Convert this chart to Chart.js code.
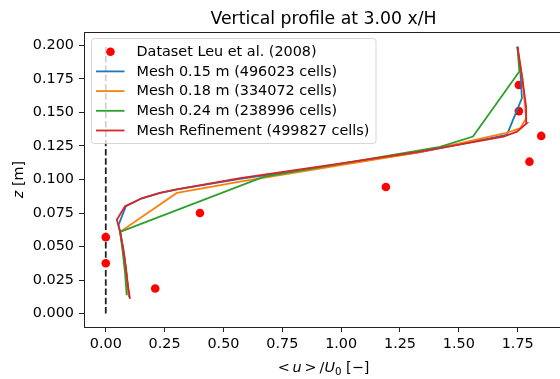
<!DOCTYPE html>
<html><head><meta charset="utf-8">
<script src="https://cdn.jsdelivr.net/npm/chart.js@4/dist/chart.umd.min.js"></script>
<style>html,body{margin:0;padding:0;overflow:hidden;background:#fff}</style>
</head><body>
<canvas id="c" width="600" height="379" style="width:600px;height:379px;display:block"></canvas>
<script>
// ---- data ----
const chartTitle = 'Vertical profile at 3.00 x/H';
const xTicks = [0, 0.25, 0.5, 0.75, 1.0, 1.25, 1.5, 1.75];
const yTicks = [0, 0.025, 0.05, 0.075, 0.1, 0.125, 0.15, 0.175, 0.2];

const leuLabel = 'Dataset Leu et al. (2008)';
const leuU = [0.00, 0.00, 0.21, 0.40, 1.19, 1.80, 1.85, 1.755, 1.755];
const leuZ = [0.0375, 0.057, 0.0187, 0.075, 0.0944, 0.1133, 0.1325, 0.151, 0.1705];

const m015Label = 'Mesh 0.15 m (496023 cells)';
const m015U = [0.100, 0.090, 0.078, 0.061, 0.054, 0.085, 0.153, 0.231, 0.302, 0.571, 1.0, 1.336, 1.704, 1.768, 1.761, 1.749];
const m015Z = [0.012, 0.025, 0.045, 0.061, 0.066, 0.080, 0.086, 0.090, 0.0927, 0.1005, 0.1115, 0.1205, 0.1333, 0.1607, 0.182, 0.199];

const m018Label = 'Mesh 0.18 m (334072 cells)';
const m018U = [0.096, 0.088, 0.075, 0.061, 0.302, 0.571, 1.336, 1.697, 1.761, 1.786, 1.77, 1.749];
const m018Z = [0.0137, 0.030, 0.046, 0.061, 0.090, 0.0984, 0.1205, 0.1345, 0.1383, 0.1457, 0.175, 0.199];

const m024Label = 'Mesh 0.24 m (238996 cells)';
const m024U = [0.089, 0.082, 0.072, 0.061, 0.67, 1.42, 1.56, 1.757, 1.749];
const m024Z = [0.0137, 0.030, 0.046, 0.061, 0.102, 0.1243, 0.132, 0.1806, 0.199];

const refLabel = 'Mesh Refinement (499827 cells)';
const refU = [0.103, 0.095, 0.085, 0.072, 0.061, 0.047, 0.082, 0.153, 0.231, 0.302, 0.571, 1.0, 1.336, 1.69, 1.747, 1.789, 1.786, 1.77, 1.749];
const refZ = [0.011, 0.020, 0.035, 0.050, 0.061, 0.070, 0.080, 0.086, 0.090, 0.0927, 0.101, 0.1121, 0.1208, 0.132, 0.1357, 0.142, 0.154, 0.175, 0.199];

const wallU = [0, 0];
const wallZ = [0, 0.2];

// ---- build ----
const zip = (u, z) => u.map((v, i) => ({x: v, y: z[i]}));
const FONT = 'DejaVu Sans';
const FS = 14.4;
Chart.defaults.font.family = FONT;
Chart.defaults.font.size = FS;
Chart.defaults.color = '#000';

const lineDs = (label, u, z, color, order) => ({
  label, data: zip(u, z), showLine: true, borderColor: color, backgroundColor: color,
  borderWidth: 1.8, pointRadius: 0, fill: false, order, legend: true
});

const datasets = [
  {label: leuLabel, data: zip(leuU, leuZ), showLine: false, pointRadius: 4.3, pointStyle: 'circle',
   backgroundColor: '#ff0000', borderColor: '#ff0000', borderWidth: 0, order: 5, legend: true, marker: true},
  lineDs(m015Label, m015U, m015Z, '#1f77b4', 4),
  lineDs(m018Label, m018U, m018Z, '#ff7f0e', 3),
  lineDs(m024Label, m024U, m024Z, '#2ca02c', 2),
  lineDs(refLabel, refU, refZ, '#d62728', 1),
  {label: 'wall', data: zip(wallU, wallZ), showLine: true, borderColor: '#222', borderWidth: 1.8,
   borderDash: [6.5, 2.8], pointRadius: 0, order: 10, legend: false}
];

const decorPlugin = {
  id: 'decor',
  afterDraw(chart) {
    const ctx = chart.ctx, a = chart.chartArea;
    ctx.save();
    // top / right spines
    ctx.strokeStyle = '#222'; ctx.lineWidth = 1;
    ctx.beginPath(); ctx.moveTo(a.left, a.top + 0.5); ctx.lineTo(a.right, a.top + 0.5); ctx.stroke();
    ctx.beginPath(); ctx.moveTo(a.right - 0.5, a.top); ctx.lineTo(a.right - 0.5, a.bottom); ctx.stroke();
    // title
    const cx = (a.left + a.right) / 2;
    ctx.fillStyle = '#000';
    ctx.font = '17.3px ' + FONT;
    ctx.textAlign = 'center'; ctx.textBaseline = 'alphabetic';
    ctx.fillText(chartTitle, cx, 24);
    // x label (mathtext-like)
    const f = FS + 'px ' + FONT, fi = 'italic ' + FS + 'px ' + FONT;
    const segs = [
      ['<', f, 0], ['\u2009', f, 0], ['u', fi, 0], ['\u2009', f, 0], ['>', f, 0], ['\u2009', f, 0],
      ['/', f, 0], ['U', fi, 0], ['0', '10.3px ' + FONT, 2.5], [' [\u2212]', f, 0]
    ];
    let tw = 0;
    segs.forEach(s => { ctx.font = s[1]; s.w = ctx.measureText(s[0]).width; tw += s.w; });
    let x0 = cx - tw / 2;
    ctx.textAlign = 'left';
    segs.forEach(s => { ctx.font = s[1]; ctx.fillText(s[0], x0, 372 + s[2]); x0 += s.w; });
    // y label
    ctx.save();
    ctx.translate(23, (a.top + a.bottom) / 2);
    ctx.rotate(-Math.PI / 2);
    const ys = [['z', fi], [' [m]', f]];
    let yw = 0;
    ys.forEach(s => { ctx.font = s[1]; s.w = ctx.measureText(s[0]).width; yw += s.w; });
    let y0 = -yw / 2;
    ys.forEach(s => { ctx.font = s[1]; ctx.fillText(s[0], y0, 0); y0 += s.w; });
    ctx.restore();
    // legend
    const lx = 91.5, ly = 38.5, lw = 284.5, lh = 105, r = 3;
    ctx.beginPath();
    ctx.moveTo(lx + r, ly); ctx.lineTo(lx + lw - r, ly); ctx.quadraticCurveTo(lx + lw, ly, lx + lw, ly + r);
    ctx.lineTo(lx + lw, ly + lh - r); ctx.quadraticCurveTo(lx + lw, ly + lh, lx + lw - r, ly + lh);
    ctx.lineTo(lx + r, ly + lh); ctx.quadraticCurveTo(lx, ly + lh, lx, ly + lh - r);
    ctx.lineTo(lx, ly + r); ctx.quadraticCurveTo(lx, ly, lx + r, ly); ctx.closePath();
    ctx.fillStyle = 'rgba(255,255,255,0.8)'; ctx.fill();
    ctx.strokeStyle = 'rgba(204,204,204,0.8)'; ctx.lineWidth = 1; ctx.stroke();
    const items = chart.data.datasets.filter(d => d.legend);
    ctx.font = f; ctx.textBaseline = 'middle'; ctx.textAlign = 'left';
    items.forEach((d, i) => {
      const ry = 51.7 + i * 19.7;
      if (d.marker) {
        ctx.fillStyle = d.backgroundColor;
        ctx.beginPath(); ctx.arc(110.5, ry, 4.3, 0, Math.PI * 2); ctx.fill();
      } else {
        ctx.strokeStyle = d.borderColor; ctx.lineWidth = 1.8;
        ctx.beginPath(); ctx.moveTo(96, ry); ctx.lineTo(124.5, ry); ctx.stroke();
      }
      ctx.fillStyle = '#000';
      ctx.fillText(d.label, 136.5, ry + 0.5);
    });
    ctx.restore();
  }
};

const fmt = (v, n) => Number(v).toFixed(n);

new Chart(document.getElementById('c'), {
  type: 'scatter',
  data: {datasets},
  options: {
    responsive: false, animation: false, devicePixelRatio: 1, events: [],
    layout: {padding: {top: 32, right: 37, left: 0, bottom: 0}},
    plugins: {legend: {display: false}, tooltip: {enabled: false}, title: {display: false}},
    scales: {
      x: {
        type: 'linear', min: -0.0925, max: 1.9425,
        afterBuildTicks: s => { s.ticks = xTicks.map(v => ({value: v})); },
        afterFit: s => { s.height = 52; },
        ticks: {callback: v => fmt(v, 2), padding: 4, color: '#000', maxRotation: 0, autoSkip: false, font: {size: FS}},
        grid: {display: true, drawOnChartArea: false, drawTicks: true, tickLength: 5, tickColor: '#222', tickWidth: 1},
        border: {display: true, color: '#222', width: 1}
      },
      y: {
        type: 'linear', min: -0.01, max: 0.21,
        afterBuildTicks: s => { s.ticks = yTicks.map(v => ({value: v})); },
        afterFit: s => { s.width = 84; },
        ticks: {callback: v => fmt(v, 3), padding: 5, color: '#000', autoSkip: false, font: {size: FS}},
        grid: {display: true, drawOnChartArea: false, drawTicks: true, tickLength: 5, tickColor: '#222', tickWidth: 1},
        border: {display: true, color: '#222', width: 1}
      }
    }
  },
  plugins: [decorPlugin]
});
</script>
</body></html>
